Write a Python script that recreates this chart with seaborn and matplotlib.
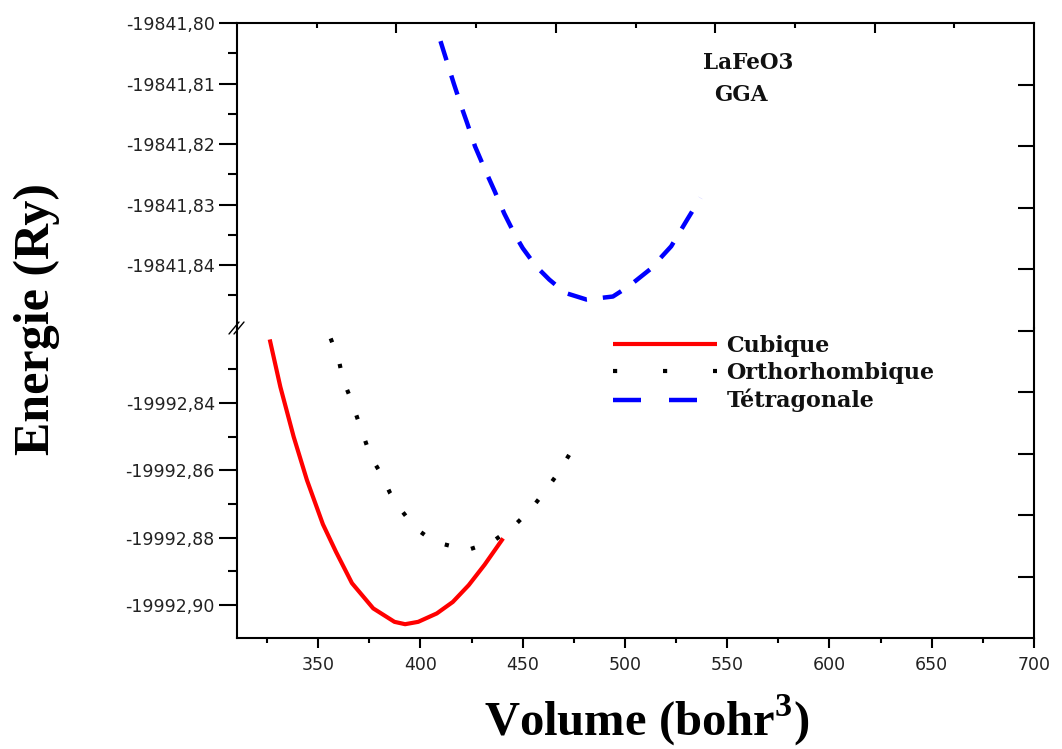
import numpy as np
import pandas as pd
import matplotlib
matplotlib.use("Agg")
import matplotlib.pyplot as plt
import seaborn as sns
from matplotlib.lines import Line2D
from matplotlib.font_manager import FontProperties
from matplotlib.ticker import FixedLocator

# ---------------- data ----------------
series_names = ["Cubique", "Orthorhombique", "Tétragonale"]

cub_vol = [326.3, 331.5, 338.0, 344.5, 352.3, 358.7, 366.5, 376.9, 387.3, 392.5,
           398.9, 408.0, 415.8, 423.6, 431.4, 440.4]
cub_E = [-19992.8211, -19992.8352, -19992.8500, -19992.8629, -19992.8760, -19992.8842,
         -19992.8935, -19992.9010, -19992.9050, -19992.9057, -19992.9050, -19992.9025,
         -19992.8991, -19992.8941, -19992.8880, -19992.8802]

ortho_vol = [356.1, 360.0, 362.1, 365.7, 369.1, 372.2, 375.6, 380.8, 385.2, 390.6,
             397.6, 406.7, 422.8, 435.2, 445.6, 453.9, 460.7, 467.2, 472.8]
ortho_E = [-19992.8208, -19992.8270, -19992.8330, -19992.8384, -19992.8444, -19992.8498,
           -19992.8558, -19992.8611, -19992.8668, -19992.8718, -19992.8772, -19992.8812,
           -19992.8837, -19992.8812, -19992.8766, -19992.8716, -19992.8664, -19992.8609,
           -19992.8553]

tetra_vol = [409.8, 412.4, 416.3, 420.2, 422.8, 426.7, 431.9, 436.3, 441.0, 446.2,
             450.0, 456.5, 463.0, 470.8, 481.2, 494.1, 501.9, 512.3, 522.6, 530.4, 536.9]
tetra_E = [-19841.8030, -19841.8058, -19841.8100, -19841.8140, -19841.8165, -19841.8204,
           -19841.8245, -19841.8278, -19841.8315, -19841.8350, -19841.8372, -19841.8402,
           -19841.8424, -19841.8446, -19841.8457, -19841.8452, -19841.8435, -19841.8407,
           -19841.8369, -19841.8325, -19841.8289]

x_ticks = [350, 400, 450, 500, 550, 600, 650, 700]
x_tick_labels = ["350", "400", "450", "500", "550", "600", "650", "700"]
top_y_ticks = [-19841.80, -19841.81, -19841.82, -19841.83, -19841.84]
top_y_labels = ["-19841,80", "-19841,81", "-19841,82", "-19841,83", "-19841,84"]
bot_y_ticks = [-19992.84, -19992.86, -19992.88, -19992.90]
bot_y_labels = ["-19992,84", "-19992,86", "-19992,88", "-19992,90"]
annot_lines = ["LaFeO3", "GGA"]
x_label = r"Volume (bohr$^{\mathbf{3}}$)"
y_label = "Energie (Ry)"

# ---------------- style ----------------
sns.set_theme(style="white")
plt.rcParams["font.family"] = ["DejaVu Sans"]
plt.rcParams["mathtext.fontset"] = "custom"
plt.rcParams["mathtext.rm"] = "Liberation Serif:bold"
plt.rcParams["mathtext.bf"] = "Liberation Serif:bold"
plt.rcParams["axes.edgecolor"] = "black"

W, H = 1062, 749
fig = plt.figure(figsize=(W / 100, H / 100), dpi=100)
fig.patch.set_facecolor("white")

L, R, T, MID, B = 237, 1034, 23, 328, 638
ax_top = fig.add_axes([L / W, 1 - MID / H, (R - L) / W, (MID - T) / H])
ax_bot = fig.add_axes([L / W, 1 - B / H, (R - L) / W, (B - MID) / H])

SPW = 1.5
tick_color = "#222222"
tick_font = dict(family="DejaVu Sans", size=12.5)

df_cub = pd.DataFrame({"Volume": cub_vol, "Energie": cub_E})
df_ort = pd.DataFrame({"Volume": ortho_vol, "Energie": ortho_E})
df_tet = pd.DataFrame({"Volume": tetra_vol, "Energie": tetra_E})

sns.lineplot(data=df_cub, x="Volume", y="Energie", ax=ax_bot, color="#ff0000",
             lw=3.0, estimator=None, sort=False, legend=False,
             solid_capstyle="butt", solid_joinstyle="round")
sns.lineplot(data=df_ort, x="Volume", y="Energie", ax=ax_bot, color="black",
             lw=3.0, estimator=None, sort=False, legend=False,
             linestyle=(0, (1, 5.5)), dash_capstyle="butt")
sns.lineplot(data=df_tet, x="Volume", y="Energie", ax=ax_top, color="#0000ff",
             lw=3.2, estimator=None, sort=False, legend=False,
             linestyle=(0, (4.5, 3.6)), dash_capstyle="butt", dash_joinstyle="round")

for ax in (ax_top, ax_bot):
    ax.set_xlim(310.3, 700)
    ax.set_xlabel("")
    ax.set_ylabel("")
    ax.set_facecolor("none")
    for s in ax.spines.values():
        s.set_linewidth(SPW)
        s.set_color("black")

ax_top.set_ylim(-19841.8504, -19841.80)
ax_bot.set_ylim(-19992.9098, -19992.8177)

# top axes: only left/top/right spines
ax_top.spines["bottom"].set_visible(False)
ax_top.set_xticks([])
ax_top.yaxis.set_major_locator(FixedLocator(top_y_ticks))
ax_top.set_yticklabels(top_y_labels, **tick_font, color=tick_color)
ax_top.yaxis.set_minor_locator(FixedLocator(
    [(a + b) / 2 for a, b in zip(top_y_ticks[:-1], top_y_ticks[1:])] + [top_y_ticks[-1] - 0.005]))

# bottom axes
ax_bot.spines["top"].set_visible(False)
ax_bot.xaxis.set_major_locator(FixedLocator(x_ticks))
ax_bot.set_xticklabels(x_tick_labels, **tick_font, color=tick_color)
ax_bot.xaxis.set_minor_locator(FixedLocator([t - 25 for t in x_ticks]))
ax_bot.yaxis.set_major_locator(FixedLocator(bot_y_ticks))
ax_bot.set_yticklabels(bot_y_labels, **tick_font, color=tick_color)
ax_bot.yaxis.set_minor_locator(FixedLocator(
    [bot_y_ticks[0] + 0.01] + [(a + b) / 2 for a, b in zip(bot_y_ticks[:-1], bot_y_ticks[1:])]))

for ax in (ax_top, ax_bot):
    ax.tick_params(axis="y", which="major", left=True, right=False, direction="out",
                   length=13, width=SPW, color="black", pad=3)
    ax.tick_params(axis="y", which="minor", left=True, right=False, direction="out",
                   length=6.5, width=SPW, color="black")
ax_bot.tick_params(axis="x", which="major", bottom=True, top=False, direction="out",
                   length=7, width=SPW, color="black", pad=6)
ax_bot.tick_params(axis="x", which="minor", bottom=True, top=False, direction="out",
                   length=3.6, width=SPW, color="black")

# overlay frame for the inward top and right ticks of the whole layer
ax_ov = fig.add_axes([L / W, 1 - B / H, (R - L) / W, (B - T) / H])
ax_ov.patch.set_visible(False)
for s in ax_ov.spines.values():
    s.set_visible(False)
ax_ov.set_xlim(0, 5)
ax_ov.set_ylim(0, 10)
ax_ov.xaxis.set_ticks_position("top")
ax_ov.yaxis.set_ticks_position("right")
ax_ov.set_xticks([1, 2, 3, 4])
ax_ov.set_xticks([0.5, 1.5, 2.5, 3.5, 4.5], minor=True)
ax_ov.set_yticks([1, 2, 3, 4, 5, 6, 7, 8, 9])
ax_ov.tick_params(axis="x", which="major", direction="in", length=7, width=SPW,
                  color="black", labeltop=False, labelbottom=False)
ax_ov.tick_params(axis="x", which="minor", direction="in", length=3.6, width=SPW,
                  color="black", labeltop=False, labelbottom=False)
ax_ov.tick_params(axis="y", which="major", direction="in", length=11.5, width=SPW,
                  color="black", labelright=False, labelleft=False)

# axis break marks on the left spine
ybrk = 1 - MID / H
for dx in (-3, 2):
    fig.add_artist(Line2D([(L + dx - 5) / W, (L + dx + 5) / W],
                          [ybrk - 6 / H, ybrk + 6 / H], color="black", lw=1.0,
                          transform=fig.transFigure))

# annotations
ann_font = dict(family="DejaVu Serif", weight="bold", size=15.5, color="#111111")
fig.text(703 / W, 1 - 63 / H, annot_lines[0], ha="left", va="center", **ann_font)
fig.text(714 / W, 1 - 95 / H, annot_lines[1], ha="left", va="center", **ann_font)

# legend
handles = [
    Line2D([], [], color="#ff0000", lw=3.0, solid_capstyle="butt"),
    Line2D([], [], color="black", lw=3.0, linestyle=(0, (1, 11)), dash_capstyle="butt"),
    Line2D([], [], color="#0000ff", lw=3.2, linestyle=(0, (6.3, 6.3)), dash_capstyle="butt"),
]
leg = ax_bot.legend(handles, series_names, loc="upper left",
                    bbox_to_anchor=(613 / W, 1 - 335 / H), bbox_transform=fig.transFigure,
                    frameon=False, borderpad=0, borderaxespad=0, handlelength=4.7,
                    handletextpad=0.4, labelspacing=0.22,
                    prop=FontProperties(family="DejaVu Serif", weight="bold", size=16))
for t in leg.get_texts():
    t.set_color("#111111")

# axis titles
fig.text(37 / W, 1 - 319 / H, y_label, rotation=90, ha="center", va="center",
         family="Liberation Serif", weight="bold", size=36, color="black")
fig.text(647 / W, 1 - 736 / H, x_label, ha="center", va="baseline",
         family="Liberation Serif", weight="bold", size=35, color="black")

fig.savefig("out.png", dpi=100, facecolor="white")
